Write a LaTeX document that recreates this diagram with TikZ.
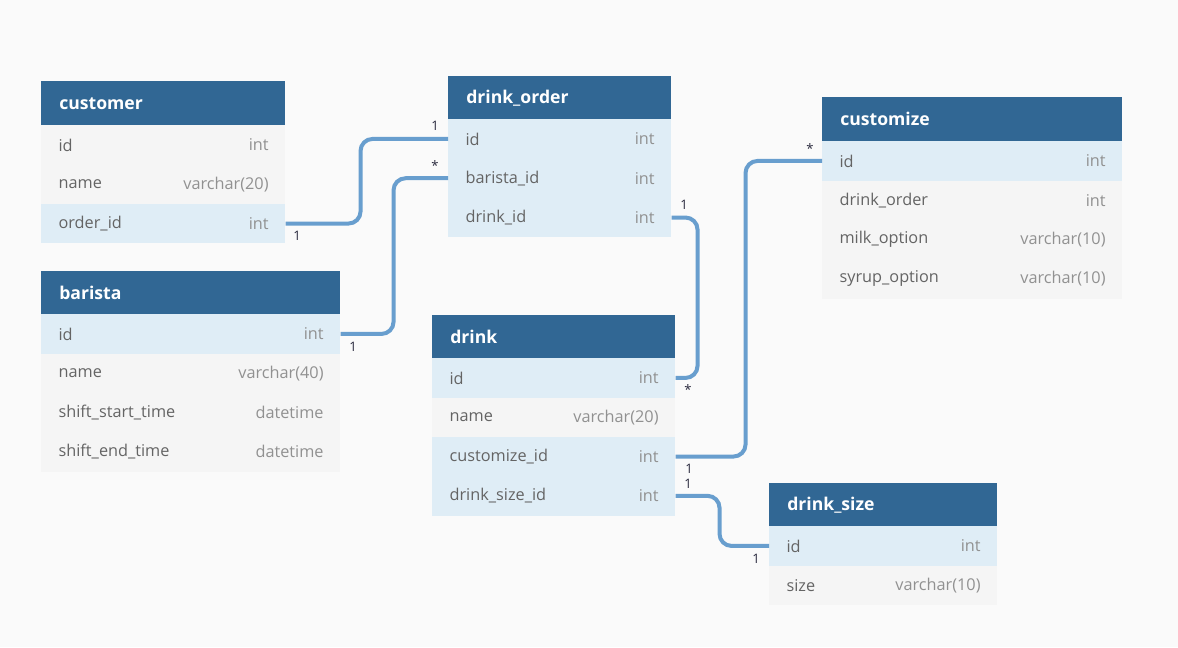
\documentclass[tikz,border=0pt]{standalone}
\usepackage{fontspec}
\setmainfont{Open Sans}
\usetikzlibrary{calc}
\definecolor{bg}{RGB}{250,250,250}
\definecolor{hdrc}{RGB}{49,103,148}
\definecolor{rowg}{RGB}{245,245,245}
\definecolor{rowb}{RGB}{223,237,246}
\definecolor{linec}{RGB}{104,158,206}
\definecolor{fieldc}{RGB}{100,100,100}
\definecolor{typec}{RGB}{145,145,145}
\definecolor{labc}{RGB}{40,40,60}
\tikzset{
  hdr/.style={rectangle, fill=hdrc, draw=none, inner sep=0pt, minimum height=33pt},
  hdrtxt/.style={text=white, font=\bfseries\fontsize{13.2}{15}\selectfont, inner sep=0pt},
  rowbox/.style={rectangle, draw=none, inner sep=0pt, minimum height=29.5pt},
  fieldtxt/.style={text=fieldc, font=\fontsize{12.2}{14}\selectfont, inner sep=0pt},
  typetxt/.style={text=typec, font=\fontsize{12.2}{14}\selectfont, inner sep=0pt},
  conn/.style={draw=linec, line width=3pt, rounded corners=9pt},
  card/.style={text=labc, font=\fontsize{9.8}{11}\selectfont, inner sep=0pt},
}
\newcommand\erhead[5]{%
  \node[hdr, minimum width=#4*0.75pt, anchor=north west] (#1) at (#2,#3) {};
  \node[hdrtxt, anchor=west] (#1-t) at ([xshift=13.5pt]#1.west) {#5};}
\newcommand\errow[7]{%
  \node[rowbox, fill=#5, minimum width=#4*0.75pt, anchor=north west] (#1) at (#2,#3) {};
  \node[fieldtxt, anchor=west] (#1-n) at ([xshift=13pt]#1.west) {#6};
  \node[typetxt, anchor=east] (#1-ty) at ([xshift=-12.5pt]#1.east) {#7};}
\begin{document}
\begin{tikzpicture}[x=0.75pt, y=-0.75pt]
\fill[bg] (0,0) rectangle (1178,647);
\useasboundingbox (0,0) rectangle (1178,647);

% customer
\erhead{cust}{41}{81}{244}{customer}
\errow{cust-id}{41}{125}{244}{rowg}{id}{int}
\errow{cust-name}{41}{164.3}{244}{rowg}{name}{varchar(20)}
\errow{cust-order}{41}{203.6}{244}{rowb}{order\_id}{int}

% drink_order
\erhead{dord}{448}{76}{223}{drink\_order}
\errow{dord-id}{448}{119}{223}{rowb}{id}{int}
\errow{dord-barista}{448}{158.3}{223}{rowb}{barista\_id}{int}
\errow{dord-drink}{448}{197.6}{223}{rowb}{drink\_id}{int}

% customize
\erhead{cz}{822}{97}{300}{customize}
\errow{cz-id}{822}{141}{300}{rowb}{id}{int}
\errow{cz-do}{822}{180.3}{300}{rowg}{drink\_order}{int}
\errow{cz-milk}{822}{219.6}{300}{rowg}{milk\_option}{varchar(10)}
\errow{cz-syrup}{822}{258.9}{300}{rowg}{syrup\_option}{varchar(10)}

% barista
\erhead{bar}{41}{271}{299}{barista}
\errow{bar-id}{41}{314}{299}{rowb}{id}{int}
\errow{bar-name}{41}{353.3}{299}{rowg}{name}{varchar(40)}
\errow{bar-start}{41}{392.6}{299}{rowg}{shift\_start\_time}{datetime}
\errow{bar-end}{41}{431.9}{299}{rowg}{shift\_end\_time}{datetime}

% drink
\erhead{dr}{432}{315}{243}{drink}
\errow{dr-id}{432}{358}{243}{rowb}{id}{int}
\errow{dr-name}{432}{397.3}{243}{rowg}{name}{varchar(20)}
\errow{dr-cust}{432}{436.6}{243}{rowb}{customize\_id}{int}
\errow{dr-size}{432}{475.9}{243}{rowb}{drink\_size\_id}{int}

% drink_size
\erhead{ds}{769}{483}{228}{drink\_size}
\errow{ds-id}{769}{526}{228}{rowb}{id}{int}
\errow{ds-size}{769}{565.3}{228}{rowg}{size}{varchar(10)}

% connectors
\draw[conn] (cust-order.east) -- ++(75,0) |- (dord-id.west);
\draw[conn] (bar-id.east) -- ++(53,0) |- (dord-barista.west);
\draw[conn] (dord-drink.east) -- ++(26,0) |- (dr-id.east);
\draw[conn] (dr-cust.east) -- ++(70,0) |- (cz-id.west);
\draw[conn] (dr-size.east) -- ++(44,0) |- (ds-id.west);

% cardinalities
\node[card] (c1a) at (297,236) {1};
\node[card] (c1b) at (435,126) {1};
\node[card] (c2a) at (353,347) {1};
\node[card] (c2b) at (435,166) {*};
\node[card] (c3a) at (684,205) {1};
\node[card] (c3b) at (688,390) {*};
\node[card] (c4a) at (689,469) {1};
\node[card] (c4b) at (810,149) {*};
\node[card] (c5a) at (688,484) {1};
\node[card] (c5b) at (756,559) {1};
\end{tikzpicture}
\end{document}
